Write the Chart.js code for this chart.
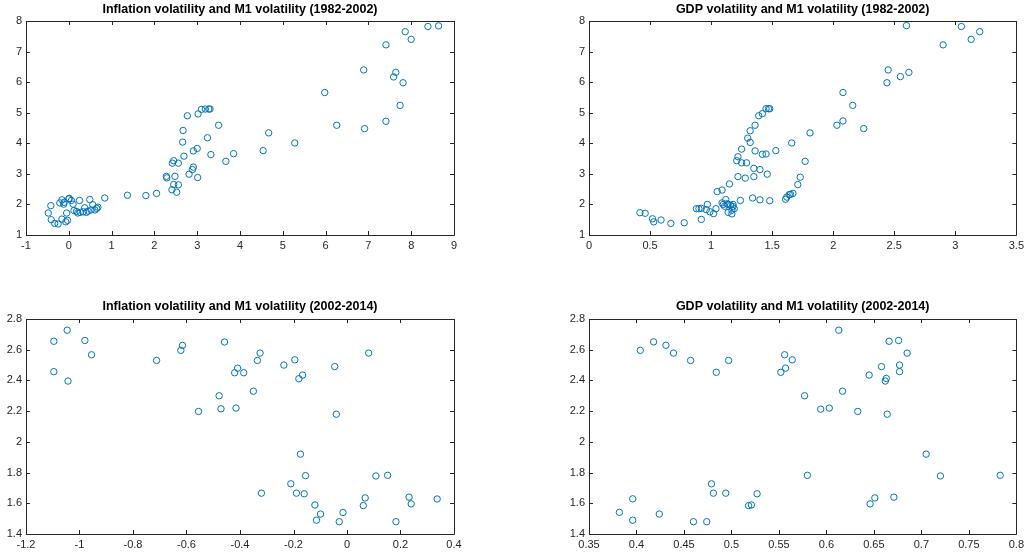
<!DOCTYPE html>
<html>
<head>
<meta charset="utf-8">
<script src="https://cdn.jsdelivr.net/npm/chart.js@4/dist/chart.umd.min.js"></script>
<style>
  body { margin: 0; background: #fff; }
  #wrap { position: relative; width: 1028px; height: 554px; overflow: hidden; }
  canvas { position: absolute; }
</style>
</head>
<body>
<div id="wrap">
  <canvas id="c1" width="514" height="277" style="left:0;top:0"></canvas>
  <canvas id="c2" width="514" height="277" style="left:514px;top:0"></canvas>
  <canvas id="c3" width="514" height="277" style="left:0;top:277px"></canvas>
  <canvas id="c4" width="514" height="277" style="left:514px;top:277px"></canvas>
</div>
<script>
// 1982-2002, inflation volatility vs M1 volatility
const inflation8202 = [-0.48,-0.42,-0.41,-0.33,-0.25,-0.16,-0.07,-0.03,-0.05,-0.21,-0.16,-0.12,-0.11,0.0,0.01,0.06,0.10,0.12,0.18,0.21,0.25,0.27,0.34,0.37,0.41,0.45,0.49,0.52,0.56,0.61,0.65,0.68,0.84,1.37,1.80,2.05,
  2.28,2.29,2.42,2.45,2.41,2.45,2.48,2.52,2.56,2.56,2.66,2.67,2.69,2.77,2.81,2.89,2.91,2.91,3.00,3.01,3.02,3.10,3.19,3.27,3.30,3.24,3.32,3.50,3.67,3.85,
  4.54,4.67,5.28,5.98,6.26,6.89,6.91,7.41,7.41,7.64,7.59,7.81,7.74,7.86,8.00,8.39,8.64];
const m1Infl8202 = [1.72,1.96,1.50,1.38,1.36,1.52,1.43,1.48,1.72,2.05,2.15,2.01,2.07,2.18,2.20,2.13,2.01,1.80,1.77,1.72,2.13,1.74,1.76,1.89,1.74,1.78,2.16,1.82,1.99,1.82,1.87,1.91,2.21,2.30,2.29,2.36,
  2.92,2.87,3.35,3.43,2.48,2.65,2.92,2.40,2.64,3.35,4.04,4.42,3.58,4.90,2.99,3.14,3.22,3.75,3.83,2.88,4.96,5.11,5.12,5.12,5.12,4.18,3.63,4.59,3.41,3.66,
  3.76,4.34,4.01,5.66,4.59,6.40,4.48,7.22,4.72,6.32,6.17,5.98,5.24,7.65,7.40,7.82,7.84];

// 1982-2002, GDP volatility vs M1 volatility
const gdp8202 = [0.417,0.46,0.52,0.53,0.59,0.67,0.78,0.88,0.90,0.92,0.92,0.97,0.96,0.99,1.02,1.04,1.05,1.09,1.09,1.10,1.11,1.12,1.13,1.14,1.14,1.15,1.16,1.17,1.17,1.18,1.19,1.18,1.22,1.21,1.22,1.24,1.25,1.25,1.28,1.29,1.30,1.32,1.32,1.34,1.35,1.35,1.36,1.36,1.39,1.40,1.40,1.42,1.42,1.45,1.45,1.47,1.48,1.46,1.48,1.53,
  1.66,1.61,1.62,1.64,1.65,1.67,1.71,1.73,1.77,1.81,2.03,2.08,2.08,2.16,2.25,2.44,2.45,2.55,2.62,2.60,2.90,3.05,3.13,3.20];
const m1Gdp8202 = [1.73,1.71,1.53,1.43,1.49,1.38,1.40,1.86,1.86,1.87,1.51,2.00,1.83,1.76,1.70,1.86,2.42,2.47,2.05,2.00,1.94,2.16,2.02,1.74,2.00,2.67,1.97,1.69,1.81,2.00,1.86,1.93,2.91,3.43,3.56,2.13,3.36,3.81,2.86,3.36,4.17,4.03,4.41,2.21,3.18,2.91,3.75,4.59,4.90,3.14,2.15,4.97,3.64,3.65,5.13,5.13,5.13,2.99,2.12,3.76,
  4.01,2.17,2.24,2.32,2.33,2.36,2.65,2.89,3.41,4.34,4.59,4.73,5.66,5.24,4.48,5.98,6.40,6.18,6.32,7.85,7.22,7.82,7.40,7.65];

// 2002-2014, inflation volatility vs M1 volatility
const inflation0214 = [-1.096,-1.096,-1.046,-1.043,-0.98,-0.955,-0.712,-0.621,-0.615,-0.555,-0.478,-0.471,-0.458,-0.42,-0.409,-0.415,-0.386,-0.35,-0.335,-0.325,-0.32,
  -0.236,-0.195,-0.18,-0.166,-0.046,0.081,-0.04,-0.174,-0.155,-0.21,-0.189,-0.16,-0.12,-0.099,-0.114,-0.015,-0.029,0.061,0.068,0.108,0.152,0.183,0.232,0.24,0.337];
const m1Infl0214 = [2.655,2.457,2.727,2.396,2.66,2.567,2.53,2.596,2.628,2.198,2.30,2.215,2.65,2.45,2.48,2.22,2.45,2.33,2.53,2.578,1.666,
  2.50,2.534,2.411,2.435,2.49,2.578,2.18,1.92,1.78,1.727,1.666,1.662,1.589,1.53,1.49,1.54,1.48,1.585,1.635,1.778,1.782,1.48,1.64,1.596,1.628];

// 2002-2014, GDP volatility vs M1 volatility
const gdp0214 = [0.382,0.396,0.396,0.404,0.418,0.424,0.431,0.439,0.457,0.460,0.474,0.479,0.481,0.484,0.494,0.497,0.518,0.521,0.527,0.552,0.556,0.557,
  0.564,0.577,0.580,0.594,0.603,0.613,0.617,0.633,0.645,0.646,0.651,0.658,0.662,0.663,0.664,0.666,0.671,0.676,0.677,0.677,0.685,0.705,0.720,0.783];
const m1Gdp0214 = [1.541,1.629,1.49,2.596,2.651,1.530,2.629,2.578,2.53,1.48,1.48,1.727,1.666,2.453,1.666,2.53,1.585,1.589,1.662,2.453,2.567,2.48,
  2.534,2.30,1.782,2.213,2.22,2.727,2.33,2.198,2.435,1.596,1.635,2.49,2.396,2.413,2.18,2.655,1.64,2.66,2.50,2.457,2.578,1.92,1.778,1.782];

const titles = [
  'Inflation volatility and M1 volatility (1982-2002)',
  'GDP volatility and M1 volatility (1982-2002)',
  'Inflation volatility and M1 volatility (2002-2014)',
  'GDP volatility and M1 volatility (2002-2014)',
];

const axisColor = '#262626';
const markerColor = '#0072BD';

// box round the plot, inward ticks on all four sides, and the title
const matlabAxes = {
  id: 'matlabAxes',
  afterDraw(chart, args, opts) {
    const { ctx, chartArea: a, scales } = chart;
    const tl = 4;
    ctx.save();
    ctx.strokeStyle = axisColor;
    ctx.lineWidth = 1;
    ctx.beginPath();
    ctx.rect(Math.round(a.left) + 0.5, Math.round(a.top) + 0.5,
             Math.round(a.right - a.left), Math.round(a.bottom - a.top));
    scales.x.ticks.forEach(t => {
      const px = Math.round(scales.x.getPixelForValue(t.value)) + 0.5;
      ctx.moveTo(px, a.bottom); ctx.lineTo(px, a.bottom - tl);
      ctx.moveTo(px, a.top); ctx.lineTo(px, a.top + tl);
    });
    scales.y.ticks.forEach(t => {
      const py = Math.round(scales.y.getPixelForValue(t.value)) + 0.5;
      ctx.moveTo(a.left, py); ctx.lineTo(a.left + tl, py);
      ctx.moveTo(a.right, py); ctx.lineTo(a.right - tl, py);
    });
    ctx.stroke();
    ctx.fillStyle = '#000';
    ctx.font = 'bold 12.5px "Liberation Sans", Arial, sans-serif';
    ctx.textAlign = 'center';
    ctx.textBaseline = 'middle';
    ctx.fillText(opts.title, (a.left + a.right) / 2, a.top - opts.titleGap);
    ctx.restore();
  }
};

const fmt = v => String(Number(v.toFixed(2)));

function makeChart(id, xs, ys, title, xr, yr, pad, yWidth, xHeight, titleGap) {
  const points = xs.map((x, i) => ({ x, y: ys[i] }));
  return new Chart(document.getElementById(id), {
    type: 'scatter',
    plugins: [matlabAxes],
    data: {
      datasets: [{
        data: points,
        pointStyle: 'circle',
        pointRadius: 3.2,
        pointBorderWidth: 1,
        pointBorderColor: markerColor,
        pointBackgroundColor: 'rgba(0,0,0,0)',
      }],
    },
    options: {
      responsive: false,
      animation: false,
      devicePixelRatio: 1,
      layout: { padding: pad },
      plugins: {
        legend: { display: false },
        tooltip: { enabled: false },
        matlabAxes: { title, titleGap },
      },
      scales: {
        x: {
          type: 'linear',
          min: xr[0], max: xr[1],
          afterFit: s => { s.height = xHeight; },
          border: { display: false },
          grid: { display: false, drawTicks: false },
          ticks: {
            stepSize: xr[2], autoSkip: false, maxRotation: 0, padding: 4,
            color: axisColor,
            font: { family: '"Liberation Sans", Arial, sans-serif', size: 11 },
            callback: fmt,
          },
        },
        y: {
          type: 'linear',
          min: yr[0], max: yr[1],
          afterFit: s => { s.width = yWidth; },
          border: { display: false },
          grid: { display: false, drawTicks: false },
          ticks: {
            stepSize: yr[2], padding: 4,
            color: axisColor,
            font: { family: '"Liberation Sans", Arial, sans-serif', size: 11 },
            callback: fmt,
          },
        },
      },
    },
  });
}

makeChart('c1', inflation8202, m1Infl8202, titles[0], [-1, 9, 1], [1, 8, 1],
  { left: 0, right: 60, top: 21, bottom: 0 }, 26, 42, 11);
makeChart('c2', gdp8202, m1Gdp8202, titles[1], [0, 3.5, 0.5], [1, 8, 1],
  { left: 0, right: 10, top: 21, bottom: 0 }, 75, 42, 11);
makeChart('c3', inflation0214, m1Infl0214, titles[2], [-1.2, 0.4, 0.2], [1.4, 2.8, 0.2],
  { left: 0, right: 60, top: 42, bottom: 0 }, 26, 20, 12);
makeChart('c4', gdp0214, m1Gdp0214, titles[3], [0.35, 0.8, 0.05], [1.4, 2.8, 0.2],
  { left: 0, right: 10, top: 42, bottom: 0 }, 75, 20, 12);
</script>
</body>
</html>
